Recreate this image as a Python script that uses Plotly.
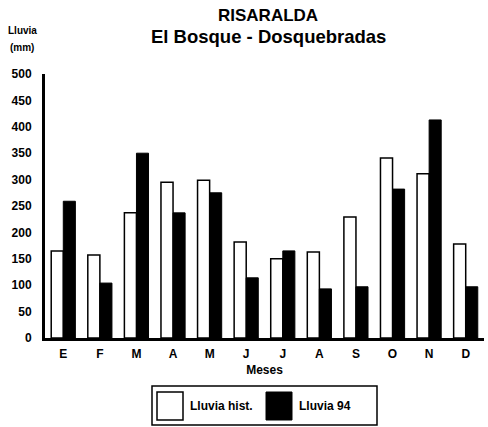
import plotly.graph_objects as go

meses = ["E", "F", "M", "A", "M", "J", "J", "A", "S", "O", "N", "D"]
lluvia_hist = [165, 157, 237, 295, 299, 182, 150, 163, 229, 341, 311, 178]
lluvia_94 = [259, 104, 350, 237, 275, 114, 165, 93, 97, 282, 413, 97]
serie_nombres = ["Lluvia hist.", "Lluvia 94"]
y_ticks = [0, 50, 100, 150, 200, 250, 300, 350, 400, 450, 500]

FONT = "Liberation Sans, Arial, sans-serif"
x_idx = list(range(len(meses)))

fig = go.Figure()
fig.add_trace(go.Bar(x=x_idx, y=lluvia_hist, name=serie_nombres[0],
                     marker=dict(color="#ffffff", line=dict(color="#000000", width=1.5)),
                     showlegend=False))
fig.add_trace(go.Bar(x=x_idx, y=lluvia_94, name=serie_nombres[1],
                     marker=dict(color="#000000", line=dict(color="#000000", width=1)),
                     showlegend=False))

fig.update_layout(
    width=488, height=427,
    margin=dict(l=45, r=4, t=74, b=89),
    paper_bgcolor="white", plot_bgcolor="white",
    barmode="group", bargap=0.34, bargroupgap=0.0,
    font=dict(family=FONT, color="#000000"),
    xaxis=dict(
        tickmode="array", tickvals=x_idx, ticktext=["<b>%s</b>" % m for m in meses],
        range=[-0.5, len(meses) - 0.5],
        showgrid=False, zeroline=False, showline=True, linecolor="#000000", linewidth=3,
        ticks="", tickfont=dict(size=12, family=FONT), ticklabelstandoff=3,
        title=dict(text="<b>Meses</b>", font=dict(size=12, family=FONT), standoff=6),
    ),
    yaxis=dict(
        range=[0, 500], tickmode="array", tickvals=y_ticks,
        ticktext=["<b>%d</b>" % v for v in y_ticks],
        showgrid=False, zeroline=False, showline=True, linecolor="#000000", linewidth=3,
        ticks="", tickfont=dict(size=12, family=FONT), ticklabelstandoff=8,
    ),
)

# Titles
fig.add_annotation(text="<b>RISARALDA</b>", xref="paper", yref="paper", x=0.5, y=1.0,
                   xshift=3, yshift=70, showarrow=False, font=dict(size=17, family=FONT))
fig.add_annotation(text="<b>El Bosque - Dosquebradas</b>", xref="paper", yref="paper", x=0.5, y=1.0,
                   xshift=4, yshift=50, showarrow=False, font=dict(size=18.5, family=FONT))
fig.add_annotation(text="<b>Lluvia</b>", xref="paper", yref="paper", x=0, y=1.0,
                   xanchor="center", xshift=-23, yshift=51, showarrow=False,
                   font=dict(size=10, family=FONT))
fig.add_annotation(text="<b>(mm)</b>", xref="paper", yref="paper", x=0, y=1.0,
                   xanchor="center", xshift=-23, yshift=34, showarrow=False,
                   font=dict(size=10, family=FONT))

# Legend box drawn manually (pixel-based via paper coords)
W, H = 488, 427
pl, pr, pt, pb = 45, 4, 74, 89
pw, ph = W - pl - pr, H - pt - pb
def px(x):
    return (x - pl) / pw
def py(y):
    return (H - pb - y) / ph

fig.add_shape(type="rect", xref="paper", yref="paper",
              x0=px(152), x1=px(377), y0=py(425), y1=py(386),
              line=dict(color="#000000", width=1.5), fillcolor="white")
fig.add_shape(type="rect", xref="paper", yref="paper",
              x0=px(157), x1=px(183), y0=py(420), y1=py(392),
              line=dict(color="#000000", width=1.5), fillcolor="white")
fig.add_shape(type="rect", xref="paper", yref="paper",
              x0=px(266), x1=px(292), y0=py(420), y1=py(392),
              line=dict(color="#000000", width=1), fillcolor="#000000")
fig.add_annotation(text="<b>%s</b>" % serie_nombres[0], xref="paper", yref="paper",
                   x=px(188), y=py(406), xanchor="left", yanchor="middle", showarrow=False,
                   font=dict(size=12, family=FONT))
fig.add_annotation(text="<b>%s</b>" % serie_nombres[1], xref="paper", yref="paper",
                   x=px(297), y=py(406), xanchor="left", yanchor="middle", showarrow=False,
                   font=dict(size=12, family=FONT))

fig.write_html("out.html", config={"displayModeBar": False},
               post_script="document.body.style.margin='0';")
